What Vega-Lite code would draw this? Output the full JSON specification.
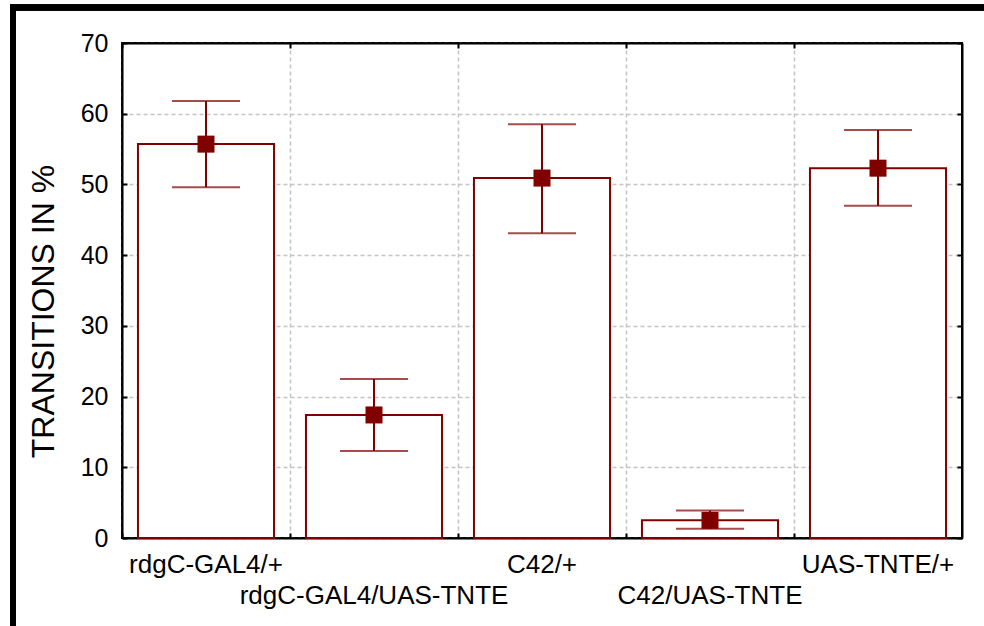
{
  "$schema": "https://vega.github.io/schema/vega-lite/v6.json",
  "width": 840,
  "height": 495,
  "autosize": {"type": "none"},
  "padding": {"left": 122, "top": 43, "right": 22, "bottom": 88},
  "background": "white",
  "config": {
    "font": "Liberation Sans",
    "view": {"stroke": "black", "strokeWidth": 2},
    "axis": {
      "domainColor": "black",
      "domainWidth": 2,
      "tickColor": "black",
      "tickWidth": 2,
      "labelColor": "black",
      "titleColor": "black",
      "gridColor": "#c4c4c4",
      "gridDash": [4, 3],
      "gridWidth": 1.5
    }
  },
  "data": {
    "values": [
      {"genotype": "rdgC-GAL4/+", "mean": 55.7, "lo": 49.6, "hi": 61.8},
      {"genotype": "rdgC-GAL4/UAS-TNTE", "mean": 17.4, "lo": 12.3, "hi": 22.5},
      {"genotype": "C42/+", "mean": 50.9, "lo": 43.1, "hi": 58.5},
      {"genotype": "C42/UAS-TNTE", "mean": 2.5, "lo": 1.3, "hi": 3.9},
      {"genotype": "UAS-TNTE/+", "mean": 52.3, "lo": 47.0, "hi": 57.7}
    ]
  },
  "resolve": {"axis": {"x": "independent", "y": "independent"}},
  "layer": [
    {
      "mark": {"type": "rect", "fill": null, "stroke": "black", "strokeWidth": 6, "clip": false},
      "encoding": {
        "x": {"value": -109},
        "x2": {"value": 900},
        "y": {"value": -35.5},
        "y2": {"value": 620}
      }
    },
    {
      "mark": {"type": "bar", "fill": "white", "stroke": "#800000", "strokeWidth": 2, "width": {"band": 0.81}},
      "encoding": {
        "x": {
          "field": "genotype",
          "type": "nominal",
          "sort": null,
          "scale": {"type": "band", "paddingInner": 0, "paddingOuter": 0},
          "axis": {
            "orient": "bottom",
            "title": null,
            "bandPosition": 0,
            "grid": true,
            "ticks": true,
            "tickSize": -5,
            "labelPadding": 18,
            "labelFontSize": 26,
            "labelLimit": 0,
            "labelAngle": 0,
            "labelAlign": "center",
            "labelOverlap": false,
            "labelBound": false,
            "labelFlush": false,
            "labelLineHeight": 31,
            "labelExpr": "indexof(['rdgC-GAL4/UAS-TNTE', 'C42/UAS-TNTE'], datum.value) >= 0 ? ['', datum.label] : datum.label"
          }
        },
        "y": {
          "field": "mean",
          "type": "quantitative",
          "scale": {"domain": [0, 70], "nice": false, "zero": true},
          "axis": {
            "orient": "left",
            "title": "TRANSITIONS IN %",
            "titleFontSize": 32,
            "titleFontWeight": "normal",
            "titlePadding": 20,
            "titleY": 268,
            "values": [0, 10, 20, 30, 40, 50, 60, 70],
            "grid": true,
            "tickSize": -5,
            "labelPadding": 19,
            "labelFontSize": 25
          }
        }
      }
    },
    {
      "mark": {"type": "rule", "color": "#800000", "strokeWidth": 2},
      "encoding": {
        "x": {
          "field": "genotype",
          "type": "nominal",
          "sort": null,
          "axis": {
            "orient": "top",
            "title": null,
            "bandPosition": 0,
            "grid": false,
            "labels": false,
            "tickSize": -5
          }
        },
        "y": {
          "field": "lo",
          "type": "quantitative",
          "axis": {
            "orient": "right",
            "title": null,
            "values": [0, 10, 20, 30, 40, 50, 60, 70],
            "grid": false,
            "labels": false,
            "tickSize": -5
          }
        },
        "y2": {"field": "hi"}
      }
    },
    {
      "mark": {"type": "tick", "color": "#800000", "size": 68, "thickness": 2},
      "encoding": {
        "x": {"field": "genotype", "type": "nominal", "sort": null, "axis": null},
        "y": {"field": "lo", "type": "quantitative", "axis": null}
      }
    },
    {
      "mark": {"type": "tick", "color": "#800000", "size": 68, "thickness": 2},
      "encoding": {
        "x": {"field": "genotype", "type": "nominal", "sort": null, "axis": null},
        "y": {"field": "hi", "type": "quantitative", "axis": null}
      }
    },
    {
      "mark": {"type": "point", "shape": "square", "filled": true, "opacity": 1, "color": "#800000", "size": 289},
      "encoding": {
        "x": {"field": "genotype", "type": "nominal", "sort": null, "axis": null},
        "y": {"field": "mean", "type": "quantitative", "axis": null}
      }
    }
  ]
}
